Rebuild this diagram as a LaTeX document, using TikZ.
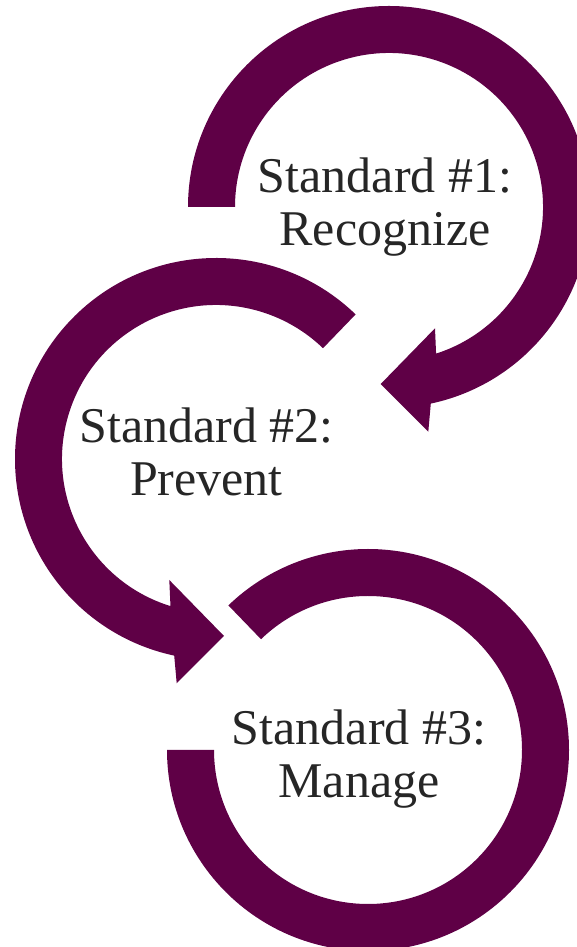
\documentclass[tikz,border=0pt]{standalone}
\usepackage{fontspec}
\setmainfont{Liberation Serif}
\usetikzlibrary{calc}
\definecolor{plum}{HTML}{5F0046}
\definecolor{txt}{HTML}{262626}
\begin{document}
\begin{tikzpicture}[x=1pt,y=1pt,
  band/.style={fill=plum,draw=none},
  label/.style={font=\fontsize{50}{53}\selectfont,text=txt,align=center,anchor=base,inner sep=0pt}]
\useasboundingbox (0,0) rectangle (577,947);
\coordinate (c1) at (389,740);
\coordinate (c2) at (216,488);
\coordinate (c3) at (368,197);
% arrow 1 (clockwise)
\fill[band] ($(c1)+(180:201)$) arc[start angle=180,end angle=-78,radius=201]
  -- (428.3,515.3) -- (380.7,563) -- (435,618.7)
  -- ($(c1)+(-72.2:154)$) arc[start angle=-72.2,end angle=180,radius=154] -- cycle;
% arrow 2 (counter-clockwise)
\fill[band] ($(c2)+(46:201)$) arc[start angle=46,end angle=258,radius=201]
  -- (176.7,263.7) -- (224,311) -- (169.3,367)
  -- ($(c2)+(252.8:154)$) arc[start angle=252.8,end angle=46,radius=154] -- cycle;
% ring 3
\fill[band] ($(c3)+(180:201)$) arc[start angle=180,end angle=494,radius=201]
  -- ($(c3)+(134:154)$) arc[start angle=134,end angle=-180,radius=154] -- cycle;
\node[label] (s1) at (385,701) {Standard \#1:\\Recognize};
\node[label] (s2) at (206.5,451) {Standard \#2:\\Prevent};
\node[label] (s3) at (359,149) {Standard \#3:\\Manage};
\end{tikzpicture}
\end{document}
